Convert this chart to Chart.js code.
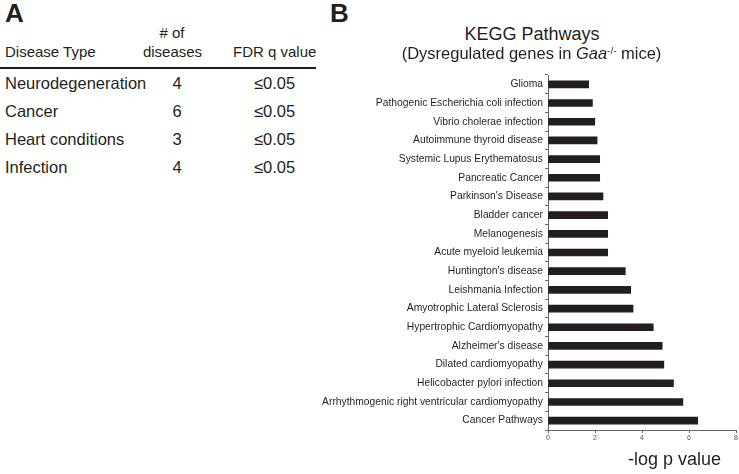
<!DOCTYPE html>
<html>
<head>
<meta charset="utf-8">
<script src="https://cdn.jsdelivr.net/npm/chart.js@4"></script>
<style>
    html, body {
        margin: 0;
        padding: 0;
        background: #fff;
    }
    body {
        position: relative;
        width: 739px;
        height: 474px;
        overflow: hidden;
        font-family: "Liberation Sans", Arial, sans-serif;
        color: #231f20;
    }
    .txt {
        position: absolute;
        white-space: nowrap;
    }
    #kegg {
        position: absolute;
        left: 300px;
        top: 60px;
    }
    #rule {
        position: absolute;
        left: 0;
        top: 67px;
        width: 316px;
        height: 2px;
        background: #231f20;
    }
</style>
</head>
<body>
<div id="rule"></div>
<canvas id="kegg" width="439" height="414"></canvas>

<script>
// Panel A table
const diseaseTypes = ["Neurodegeneration", "Cancer", "Heart conditions", "Infection"];
const diseaseCounts = [4, 6, 3, 4];
const fdrValues = ["≤0.05", "≤0.05", "≤0.05", "≤0.05"];

// Panel B: KEGG pathways, top to bottom
const pathways = [
    "Glioma",
    "Pathogenic Escherichia coli infection",
    "Vibrio cholerae infection",
    "Autoimmune thyroid disease",
    "Systemic Lupus Erythematosus",
    "Pancreatic Cancer",
    "Parkinson's Disease",
    "Bladder cancer",
    "Melanogenesis",
    "Acute myeloid leukemia",
    "Huntington's disease",
    "Leishmania Infection",
    "Amyotrophic Lateral Sclerosis",
    "Hypertrophic Cardiomyopathy",
    "Alzheimer's disease",
    "Dilated cardiomyopathy",
    "Helicobacter pylori infection",
    "Arrhythmogenic right ventricular cardiomyopathy",
    "Cancer Pathways"
];
const negLogP = [1.73, 1.89, 1.99, 2.09, 2.2, 2.2, 2.34, 2.54, 2.54, 2.54,
                 3.29, 3.52, 3.62, 4.48, 4.86, 4.93, 5.34, 5.74, 6.37];
const xTicks = [0, 2, 4, 6, 8];

// put a piece of text so that its baseline sits at y
function place(html, x, baseline, size, align, extra) {
    const el = document.createElement("div");
    el.className = "txt";
    el.innerHTML = html;
    el.style.fontSize = size + "px";
    el.style.lineHeight = size + "px";
    el.style.top = (baseline - 0.8465 * size) + "px";
    el.style.left = x + "px";
    if (align === "center") el.style.transform = "translateX(-50%)";
    if (align === "right") el.style.transform = "translateX(-100%)";
    if (extra) Object.assign(el.style, extra);
    document.body.appendChild(el);
    return el;
}

// Panel labels
place("A", 5, 22, 26, "left", { fontWeight: "bold" });
place("B", 330, 22, 26, "left", { fontWeight: "bold" });

// Table header
place("Disease Type", 5, 57, 15, "left");
place("# of", 172, 38, 15, "center");
place("diseases", 172.5, 57, 15, "center");
place("FDR q value", 233, 57, 15, "left");

// Table rows
diseaseTypes.forEach((name, i) => {
    const y = 89 + i * 28;
    place(name, 5, y, 16.5, "left");
    place(String(diseaseCounts[i]), 177, y, 16.5, "center");
    place(fdrValues[i], 274.5, y, 16.5, "center");
});

// Chart titles
place("KEGG Pathways", 532, 40, 18, "center");
place("(Dysregulated genes in <i>Gaa</i><sup style=\"font-size:0.6em;vertical-align:0.55em;line-height:0\">-/-</sup> mice)",
      531.5, 59, 16.5, "center");
place("-log p value", 628, 465, 18, "left");

Chart.defaults.font.family = "'Liberation Sans', Arial, sans-serif";

const ctx = document.getElementById("kegg").getContext("2d");
new Chart(ctx, {
    type: "bar",
    data: {
        labels: pathways,
        datasets: [{
            data: negLogP,
            backgroundColor: "#231f20",
            barThickness: 7
        }]
    },
    options: {
        indexAxis: "y",
        responsive: false,
        animation: false,
        layout: { padding: { top: 15, right: 3, left: 0, bottom: 0 } },
        plugins: {
            legend: { display: false },
            tooltip: { enabled: false }
        },
        scales: {
            x: {
                min: 0,
                max: 8,
                afterBuildTicks: (scale) => {
                    scale.ticks = xTicks.map((v) => ({ value: v }));
                },
                ticks: { font: { size: 7 }, color: "#555", padding: 1 },
                grid: { drawOnChartArea: false, tickLength: 3, color: "#666" },
                border: { color: "#666" },
                afterFit: (scale) => { scale.height = 44; }
            },
            y: {
                ticks: { font: { size: 10.3 }, color: "#231f20", padding: 2, autoSkip: false },
                grid: { drawOnChartArea: false, tickLength: 3, color: "#666", offset: true },
                border: { color: "#666" },
                afterFit: (scale) => { scale.width = 248; }
            }
        }
    }
});
</script>
</body>
</html>
